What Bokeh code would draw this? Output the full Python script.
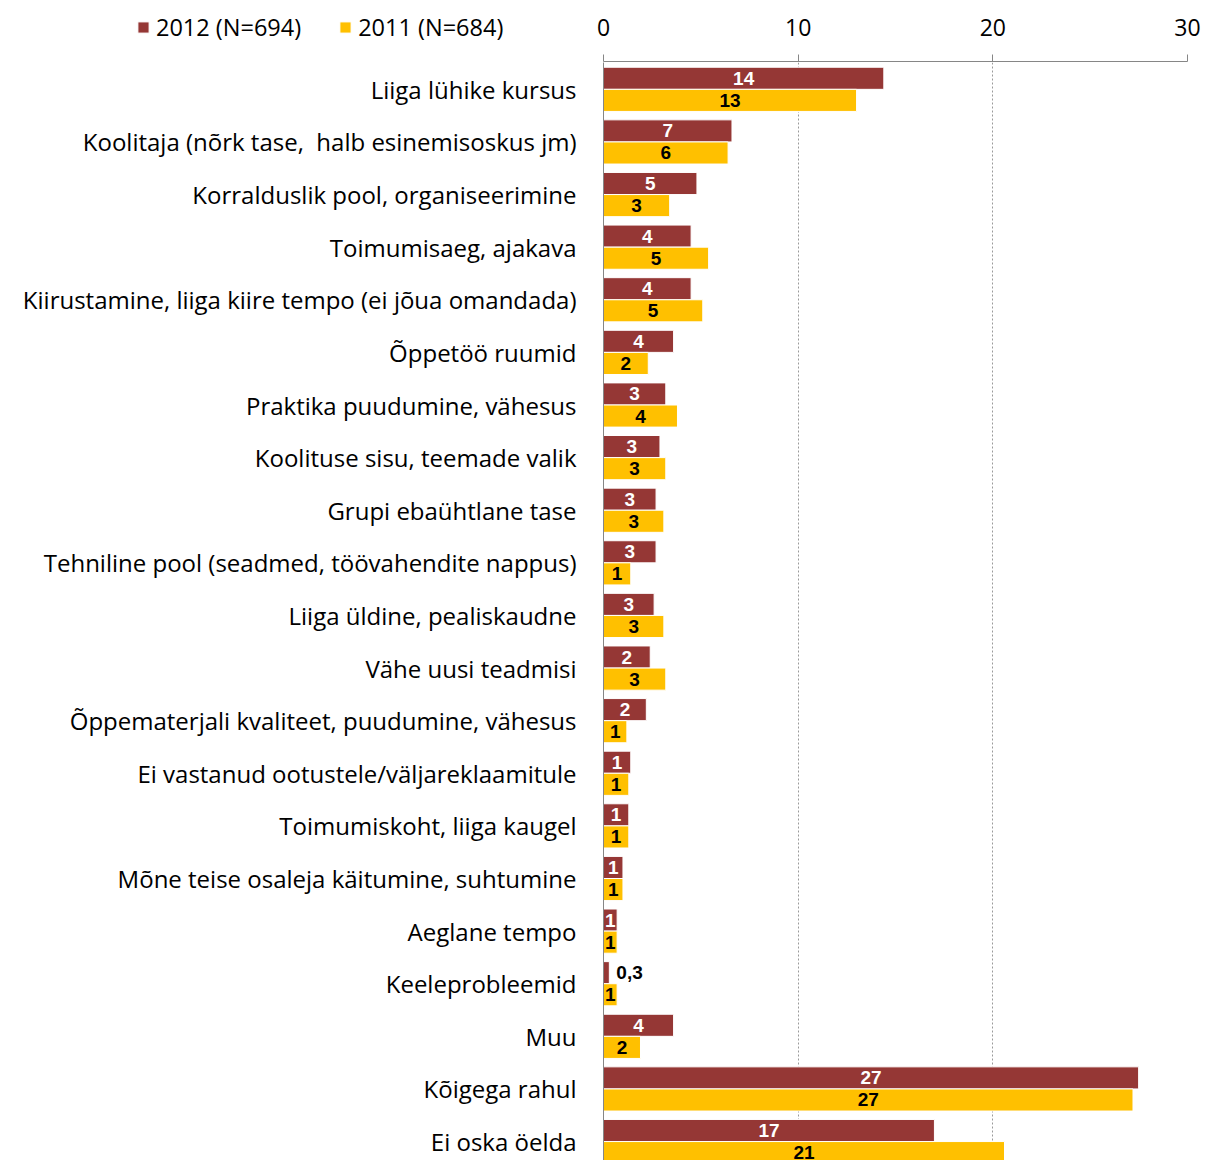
from bokeh.plotting import figure
from bokeh.layouts import column, row
from bokeh.models import Range1d, FixedTicker, ColumnDataSource, Legend, LegendItem
from bokeh.transform import dodge
from bokeh.core.properties import value
from bokeh.embed import file_html
from bokeh.resources import INLINE

categories = [
    "Liiga lühike kursus",
    "Koolitaja (nõrk tase,\u00a0 halb esinemisoskus jm)",
    "Korralduslik pool, organiseerimine",
    "Toimumisaeg, ajakava",
    "Kiirustamine, liiga kiire tempo (ei jõua omandada)",
    "Õppetöö ruumid",
    "Praktika puudumine, vähesus",
    "Koolituse sisu, teemade valik",
    "Grupi ebaühtlane tase",
    "Tehniline pool (seadmed, töövahendite nappus)",
    "Liiga üldine, pealiskaudne",
    "Vähe uusi teadmisi",
    "Õppematerjali kvaliteet, puudumine, vähesus",
    "Ei vastanud ootustele/väljareklaamitule",
    "Toimumiskoht, liiga kaugel",
    "Mõne teise osaleja käitumine, suhtumine",
    "Aeglane tempo",
    "Keeleprobleemid",
    "Muu",
    "Kõigega rahul",
    "Ei oska öelda",
]
v2012 = [14.4, 6.6, 4.8, 4.5, 4.5, 3.6, 3.2, 2.9, 2.7, 2.7, 2.6, 2.4, 2.2, 1.4, 1.3, 1.0, 0.7, 0.3, 3.6, 27.49, 17.0]
v2011 = [13.0, 6.4, 3.4, 5.4, 5.1, 2.3, 3.8, 3.2, 3.1, 1.4, 3.1, 3.2, 1.2, 1.3, 1.3, 1.0, 0.7, 0.7, 1.9, 27.2, 20.6]
series_names = ["2012 (N=694)", "2011 (N=684)"]
series_colors = ["#953735", "#FFC000"]
x_ticks = [0, 10, 20, 30]

C2012, C2011 = series_colors
AXIS = "#868686"
FONT = "Open Sans"
LABFONT = "Liberation Sans"


def fmt(v):
    if v < 0.5:
        return ("%.1f" % v).replace(".", ",")
    return str(int(round(v)))


def no_frame_align(fig):
    try:
        fig.frame_align = False
    except Exception:
        pass


idx = list(range(len(categories)))
src = ColumnDataSource(dict(
    y=idx,
    v2012=v2012,
    v2011=v2011,
    l2012=[fmt(v) for v in v2012],
    l2011=[fmt(v) for v in v2011],
    x2012=[v / 2 if v >= 0.5 else v for v in v2012],
    x2011=[v / 2 if v >= 0.5 else v for v in v2011],
    a2012=["center" if v >= 0.5 else "left" for v in v2012],
    a2011=["center" if v >= 0.5 else "left" for v in v2011],
    o2012=[0 if v >= 0.5 else 7 for v in v2012],
    o2011=[0 if v >= 0.5 else 7 for v in v2011],
    c2012=["white" if v >= 0.5 else "black" for v in v2012],
))

xr = Range1d(0, 30)

# ---------------- top-left: legend ----------------
# The key panel shows the same series (ranges keep its bars out of view; only the legend shows)
leg = figure(width=590, height=62, output_backend="svg", toolbar_location=None, title=None,
             x_axis_location=None, y_axis_location=None,
             x_range=Range1d(0, 30), y_range=Range1d(100, 101),
             min_border_left=0, min_border_right=0, min_border_top=0, min_border_bottom=0)
no_frame_align(leg)
leg.outline_line_color = None
leg.xgrid.visible = False
leg.ygrid.visible = False
lr1 = leg.hbar(y="y", right="v2012", left=0, height=0.42, source=src,
               fill_color=C2012, line_color="white", line_width=1)
lr2 = leg.hbar(y="y", right="v2011", left=0, height=0.42, source=src,
               fill_color=C2011, line_color="white", line_width=1)
legend = Legend(items=[LegendItem(label=series_names[0], renderers=[lr1]),
                       LegendItem(label=series_names[1], renderers=[lr2])],
                orientation="horizontal", location=(136, 19),
                glyph_width=14, glyph_height=14, label_standoff=6, spacing=37,
                padding=0, margin=0, border_line_color=None, background_fill_alpha=0,
                label_text_font=FONT, label_text_font_size="23.5px", label_text_color="black")
leg.add_layout(legend)

# ---------------- top-right: value axis ----------------
top = figure(width=618, height=62, output_backend="svg", toolbar_location=None, title=None,
             x_range=xr, y_range=Range1d(0, 1), x_axis_location="above", y_axis_location=None,
             min_border_left=13, min_border_right=21, min_border_top=61, min_border_bottom=0)
no_frame_align(top)
top.outline_line_color = None
top.xgrid.visible = False
top.ygrid.visible = False
xa = top.xaxis[0]
xa.ticker = FixedTicker(ticks=x_ticks)
xa.major_tick_out = 7
xa.major_tick_in = 0
xa.minor_tick_line_color = None
xa.axis_line_color = AXIS
xa.major_tick_line_color = AXIS
xa.major_label_text_font = FONT
xa.major_label_text_font_size = "23px"
xa.major_label_text_color = "black"
xa.major_label_standoff = 19

# ---------------- main chart ----------------
p = figure(width=1208, height=1098, output_backend="svg", toolbar_location=None, title=None,
           x_range=xr, y_range=Range1d(start=20.36, end=-0.51),
           x_axis_location=None,
           min_border_left=603, min_border_right=21, min_border_top=0, min_border_bottom=0)
no_frame_align(p)
p.outline_line_color = None

bh = 0.42
p.hbar(y=dodge("y", -bh / 2, range=p.y_range), right="v2012", left=0, height=bh,
       source=src, fill_color=C2012, line_color="white", line_width=1)
p.hbar(y=dodge("y", bh / 2, range=p.y_range), right="v2011", left=0, height=bh,
       source=src, fill_color=C2011, line_color="white", line_width=1)

p.text(x="x2012", y=dodge("y", -bh / 2, range=p.y_range), text="l2012", source=src,
       text_align="a2012", x_offset="o2012", text_baseline="middle", text_color="c2012",
       text_font=value(LABFONT), text_font_style="bold", text_font_size="19px")
p.text(x="x2011", y=dodge("y", bh / 2, range=p.y_range), text="l2011", source=src,
       text_align="a2011", x_offset="o2011", text_baseline="middle", text_color="black",
       text_font=value(LABFONT), text_font_style="bold", text_font_size="19px")

ya = p.yaxis[0]
ya.ticker = FixedTicker(ticks=idx)
ya.major_label_overrides = {i: c for i, c in enumerate(categories)}
ya.major_tick_out = 0
ya.major_tick_in = 0
ya.minor_tick_line_color = None
ya.axis_line_color = AXIS
ya.major_label_text_font = FONT
ya.major_label_text_font_size = "24px"
ya.major_label_text_color = "black"
ya.major_label_standoff = 27

p.ygrid.grid_line_color = None
p.xgrid.ticker = FixedTicker(ticks=x_ticks[1:])
p.xgrid.grid_line_color = "#9A9A9A"
p.xgrid.grid_line_dash = "2 2"
p.xgrid.grid_line_width = 1

layout = column(row(leg, top, spacing=0), p, spacing=0)

open("out.html", "w").write(file_html(layout, INLINE))
